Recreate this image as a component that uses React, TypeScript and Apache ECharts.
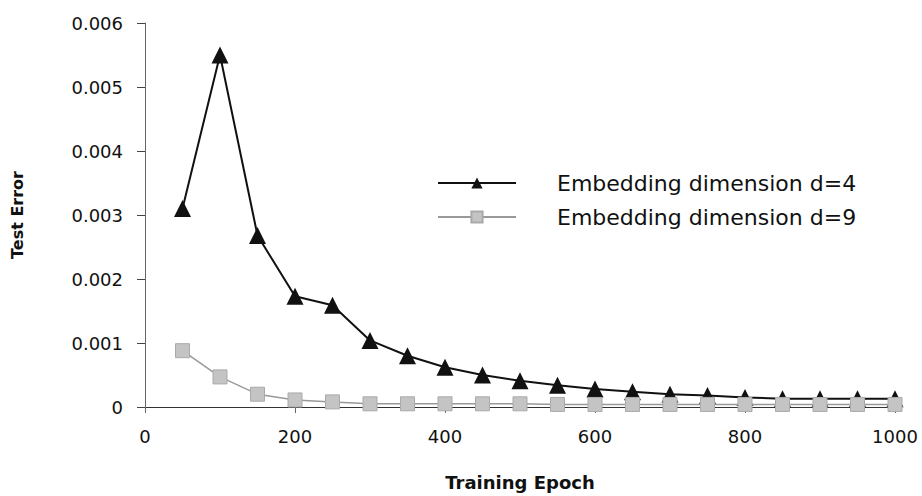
import React, { useEffect, useRef } from "react";
import * as echarts from "echarts";

const epochs = [50, 100, 150, 200, 250, 300, 350, 400, 450, 500, 550, 600, 650, 700, 750, 800, 850, 900, 950, 1000];
const errD4 = [0.0031, 0.0055, 0.00268, 0.00173, 0.00159, 0.00104, 0.0008, 0.00062, 0.0005, 0.00041, 0.00034, 0.00028, 0.00024, 0.0002, 0.00018, 0.00015, 0.00013, 0.00013, 0.00013, 0.00013];
const errD9 = [0.00088, 0.00047, 0.0002, 0.00011, 0.00008, 0.00005, 0.00005, 0.00005, 0.00005, 0.00005, 0.00004, 0.00004, 0.00004, 0.00004, 0.00004, 0.00004, 0.00004, 0.00004, 0.00004, 0.00004];
const seriesNames = ["Embedding dimension d=4", "Embedding dimension d=9"];

export default function App() {
  const ref = useRef<HTMLDivElement>(null);
  useEffect(() => {
    if (!ref.current) return;
    const chart = echarts.init(ref.current, null, { renderer: "svg" });
    const font = "'DejaVu Sans', 'Liberation Sans', Arial, sans-serif";
    chart.setOption({
      animation: false,
      backgroundColor: "#ffffff",
      grid: { left: 145, right: 27, top: 23, bottom: 86 },
      legend: {
        orient: "vertical",
        left: 432,
        top: 167,
        itemWidth: 78,
        itemHeight: 14,
        itemGap: 12,
        textStyle: { fontFamily: font, fontSize: 22, color: "#111", padding: [0, 0, 0, 36] },
        data: seriesNames,
      },
      xAxis: {
        type: "value",
        min: 0,
        max: 1000,
        interval: 200,
        name: "Training Epoch",
        nameLocation: "middle",
        nameGap: 66,
        nameTextStyle: { fontFamily: font, fontSize: 18, fontWeight: "bold", color: "#111" },
        axisLine: { lineStyle: { color: "#333", width: 1.2 } },
        axisTick: { show: true, length: 6, lineStyle: { color: "#666" } },
        axisLabel: { fontFamily: font, fontSize: 18, color: "#111", margin: 20, formatter: (v: number) => String(v) },
        splitLine: { show: false },
      },
      yAxis: {
        type: "value",
        min: 0,
        max: 0.006,
        interval: 0.001,
        name: "Test Error",
        nameLocation: "middle",
        nameGap: 120,
        nameTextStyle: { fontFamily: font, fontSize: 16, fontWeight: "bold", color: "#111" },
        axisLine: { show: true, lineStyle: { color: "#666", width: 1 } },
        axisTick: { show: true, length: 8, lineStyle: { color: "#444" } },
        axisLabel: {
          fontFamily: font,
          fontSize: 18,
          color: "#111",
          margin: 22,
          formatter: (v: number) => (v === 0 ? "0" : v.toFixed(3)),
        },
        splitLine: { show: false },
      },
      series: [
        {
          name: seriesNames[0],
          type: "line",
          data: epochs.map((e, i) => [e, errD4[i]]),
          symbol: "triangle",
          symbolSize: 17,
          lineStyle: { color: "#111", width: 2 },
          itemStyle: { color: "#111" },
          z: 2,
        },
        {
          name: seriesNames[1],
          type: "line",
          data: epochs.map((e, i) => [e, errD9[i]]),
          symbol: "rect",
          symbolSize: 14,
          lineStyle: { color: "#999", width: 1.5 },
          itemStyle: { color: "#c4c4c4", borderColor: "#aaa", borderWidth: 1 },
          z: 3,
        },
      ],
    });
    return () => chart.dispose();
  }, []);
  return <div ref={ref} style={{ width: 922, height: 496, position: "absolute", left: 0, top: 0 }} />;
}
